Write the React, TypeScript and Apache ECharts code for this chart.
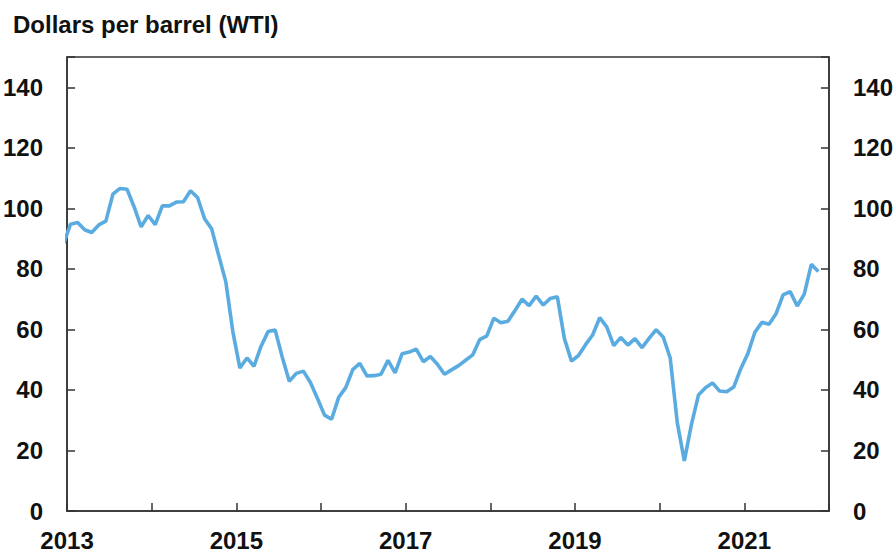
import React, { useEffect, useRef } from "react";
import * as echarts from "echarts";

const title = "Dollars per barrel (WTI)";
const startYear = 2012;
const startMonth = 12; // first value is December 2012
const wtiMonthly = [
  88.25,
  94.76, 95.31, 92.94, 92.02, 94.51, 95.77, 104.67, 106.57, 106.29, 100.54, 93.86, 97.63,
  94.62, 100.82, 100.8, 102.07, 102.18, 105.79, 103.59, 96.54, 93.21, 84.4, 75.79, 59.29,
  47.22, 50.58, 47.82, 54.45, 59.27, 59.82, 50.9, 42.87, 45.48, 46.22, 42.44, 37.19,
  31.68, 30.32, 37.55, 40.75, 46.71, 48.76, 44.65, 44.72, 45.18, 49.78, 45.66, 51.97,
  52.5, 53.47, 49.33, 51.06, 48.48, 45.18, 46.63, 48.04, 49.82, 51.58, 56.64, 57.88,
  63.7, 62.23, 62.73, 66.25, 69.98, 67.87, 70.98, 68.06, 70.23, 70.75, 56.96, 49.52,
  51.38, 54.95, 58.15, 63.86, 60.83, 54.66, 57.35, 54.81, 56.95, 53.96, 57.03, 59.88,
  57.52, 50.54, 29.21, 16.55, 28.56, 38.31, 40.71, 42.34, 39.63, 39.4, 40.94, 47.02,
  52.0, 59.04, 62.33, 61.72, 65.17, 71.38, 72.49, 67.73, 71.65, 81.48, 79.15,
];
const xMin = 2013;
const xMax = 2022;
const yMin = 0;
const yMax = 150;
const yStep = 20;
const yLabelMax = 140;

export default function App() {
  const ref = useRef<HTMLDivElement>(null);
  useEffect(() => {
    if (!ref.current) return;
    document.body.style.margin = "0";
    const chart = echarts.init(ref.current, null, { renderer: "svg" });
    const data = wtiMonthly.map((v, i) => {
      const m = startMonth - 1 + i;
      const x = startYear + Math.floor(m / 12) + ((m % 12) + 0.5) / 12;
      return [x, v];
    });
    const font = "'Liberation Sans', Arial, Helvetica, sans-serif";
    const axisColor = "#333";
    const yAxisCommon = {
      type: "value" as const,
      min: yMin,
      max: yMax,
      interval: yStep,
      splitLine: { show: false },
      axisLine: { show: true, lineStyle: { color: axisColor, width: 1.5 } },
      axisTick: { show: true, inside: true, length: 8, lineStyle: { color: axisColor, width: 1.5 } },
      axisLabel: {
        margin: 24,
        color: "#111",
        fontSize: 24,
        fontWeight: "bold" as const,
        fontFamily: font,
        formatter: (v: number) => (v > yLabelMax ? "" : String(v)),
      },
    };
    chart.setOption({
      animation: false,
      title: {
        text: title,
        left: 8,
        top: 7,
        textStyle: { fontSize: 24, fontWeight: "bold", color: "#111", fontFamily: font },
      },
      grid: {
        left: 67,
        right: 67,
        top: 57,
        bottom: 46,
        show: true,
        borderColor: axisColor,
        borderWidth: 1.5,
        containLabel: false,
      },
      xAxis: {
        type: "value",
        min: xMin,
        max: xMax,
        interval: 1,
        splitLine: { show: false },
        axisLine: { show: true, lineStyle: { color: axisColor, width: 1.5 } },
        axisTick: { show: true, inside: true, length: 8, lineStyle: { color: axisColor, width: 1.5 } },
        axisLabel: {
          margin: 17,
          color: "#111",
          fontSize: 24,
          fontWeight: "bold",
          fontFamily: font,
          showMaxLabel: true,
          formatter: (v: number) =>
            (v - xMin) % 2 === 0 && v < xMax ? String(v) : "",
        },
      },
      yAxis: [
        { ...yAxisCommon, position: "left" },
        { ...yAxisCommon, position: "right" },
      ],
      series: [
        {
          type: "line",
          data,
          showSymbol: false,
          symbol: "none",
          clip: true,
          lineStyle: { color: "#5aace0", width: 3.6 },
          yAxisIndex: 0,
        },
      ],
    });
    return () => chart.dispose();
  }, []);
  return <div ref={ref} style={{ width: 896, height: 557 }} />;
}
